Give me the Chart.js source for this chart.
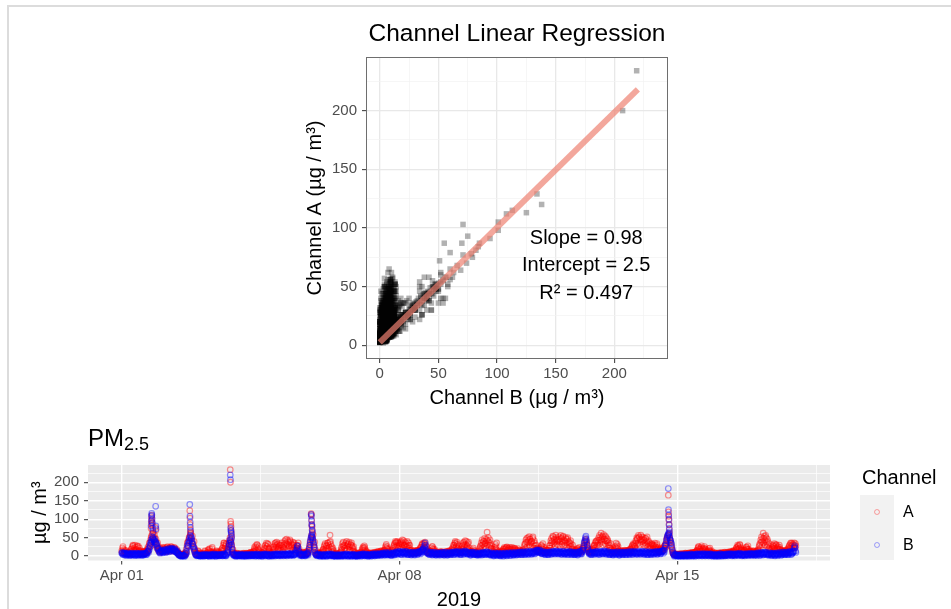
<!DOCTYPE html>
<html><head><meta charset="utf-8">
<script src="https://cdn.jsdelivr.net/npm/chart.js@4/dist/chart.umd.min.js"></script>
<style>
html,body{margin:0;padding:0;background:#fff;overflow:hidden;width:951px;height:609px;font-family:"Liberation Sans",Arial,sans-serif;}
#frame{position:absolute;left:7px;top:5px;width:960px;height:620px;border-top:2px solid #dcdcdc;border-left:2px solid #dcdcdc;}
canvas{position:absolute;left:0;}
#c1{top:0}
#c2{top:420px}
.t{position:absolute;white-space:nowrap;color:#000;}
.key{position:absolute;left:874px;width:4px;height:4px;border-radius:50%;}
</style></head><body>
<div id="frame"></div>
<canvas id="c1" width="951" height="420"></canvas>
<canvas id="c2" width="951" height="200"></canvas>
<div class="t" style="left:0;width:1034px;text-align:center;top:21px;font-size:24.5px;line-height:24px">Channel Linear Regression</div>
<div class="t" style="left:88px;top:426px;font-size:24px;line-height:24px">PM<span style="font-size:18px;position:relative;top:4px">2.5</span></div>
<div class="t" style="left:862px;top:467px;font-size:20px;line-height:20px">Channel</div>
<div style="position:absolute;left:860px;top:495px;width:34px;height:65px;background:#F2F2F2"></div>
<div class="key" style="top:509px;border:1px solid rgba(255,0,0,0.35)"></div>
<div class="key" style="top:542px;border:1px solid rgba(0,0,255,0.35)"></div>
<div class="t" style="left:903px;top:504px;font-size:16px;line-height:16px">A</div>
<div class="t" style="left:903px;top:537px;font-size:16px;line-height:16px">B</div>
<script>
// ================= DATA =================
// PM2.5 readings (µg/m³), one array per day (Apr 01 .. Apr 17 2019).
// pmX_MMDD : readings on the hour and half hour; pmX_MMDDq : readings at :15 and :45
const pmA_0401=[14,22, 18,12, 10,15, 9,8, 7,9, 8,12, 20,26, 28,22, 30,24, 18,25, 27,16, 12,10, 9,11, 8,10, 12,9, 14,18, 20,28, 35,44, 55,60, 52,45, 50,40, 32,28, 22,18, 16,15];
const pmA_0401q=[10,26, 8,16, 12,6, 6,11, 10,6, 14,18, 12,30, 16,12, 18,14, 28,12, 14,22, 8,14, 6,13, 12,7, 7,14, 10,24, 14,36, 26,50, 40,48, 36,58, 30,46, 22,36, 14,24, 10,20];
const pmB_0401=[8,7, 6,8, 5,7, 6,5, 4,6, 5,4, 6,5, 4,5, 5,6, 4,5, 6,4, 5,6, 4,5, 6,5, 5,7, 8,10, 14,22, 30,38, 45,52, 48,42, 46,38, 30,24, 18,14, 12,11];
const pmB_0401q=[10,4, 9,3, 8,2, 3,9, 7,2, 2,8, 3,8, 7,2, 2,8, 8,2, 3,7, 8,3, 2,7, 3,8, 8,4, 5,13, 10,18, 26,34, 40,48, 44,38, 40,34, 34,20, 22,10, 8,15];
const pmA_0402=[16,18, 22,15, 17,20, 18,24, 20,18, 22,19, 20,22, 21,18, 17,16, 14,12, 8,5, 4,3, 3,4, 3,5, 5,8, 18,28, 38,44, 52,58, 48,42, 34,26, 14,8, 6,5, 8,12, 6,5];
const pmA_0402q=[12,24, 14,20, 24,12, 13,26, 15,23, 14,26, 25,15, 14,24, 22,12, 18,9, 10,4, 6,2, 5,2, 6,3, 9,4, 12,36, 28,50, 40,62, 36,54, 22,40, 20,10, 4,8, 14,6, 9,4];
const pmB_0402=[12,13, 14,12, 15,13, 14,16, 15,17, 16,18, 17,19, 18,16, 15,14, 12,10, 6,3, 2,1, 2,1, 1,2, 2,4, 12,22, 32,40, 48,56, 46,40, 32,24, 12,6, 3,2, 2,3, 2,1];
const pmB_0402q=[16,9, 10,17, 18,10, 11,19, 20,12, 13,21, 22,14, 14,20, 19,11, 9,14, 8,4, 4,0, 0,3, 3,0, 0,6, 8,28, 26,36, 42,52, 50,34, 26,18, 16,4, 1,4, 4,1, 0,3];
const pmA_0403=[5,6, 4,5, 8,12, 6,5, 10,18, 14,8, 12,20, 9,6, 5,8, 7,12, 10,6, 8,5, 10,14, 22,30, 35,26, 28,18, 16,26, 42,50, 44,30, 12,7, 6,5, 4,6, 5,4, 6,5];
const pmA_0403q=[3,8, 6,3, 14,6, 4,9, 16,7, 20,11, 8,24, 12,4, 7,10, 14,5, 8,12, 4,7, 16,20, 14,36, 20,32, 34,12, 10,34, 30,38, 36,20, 18,9, 8,3, 3,8, 7,3, 4,7];
const pmB_0403=[2,3, 2,1, 3,2, 2,3, 1,2, 2,3, 3,2, 2,4, 3,2, 2,3, 3,2, 2,3, 3,4, 3,2, 4,3, 3,5, 8,18, 35,45, 38,26, 10,4, 3,2, 2,3, 2,2, 3,2];
const pmB_0403q=[0,5, 4,0, 1,5, 5,1, 4,0, 0,5, 5,1, 0,6, 5,0, 0,5, 5,1, 1,5, 5,1, 1,6, 6,1, 1,8, 12,26, 30,42, 32,18, 6,2, 5,0, 0,5, 4,0, 1,5];
const pmA_0404=[5,4, 6,5, 4,6, 5,7, 6,5, 8,6, 7,9, 10,8, 14,20, 28,24, 30,18, 10,7, 6,8, 7,9, 12,22, 30,35, 26,32, 14,8, 6,9, 10,18, 26,34, 36,28, 32,25, 20,30];
const pmA_0404q=[3,7, 4,8, 7,3, 8,4, 4,8, 6,10, 11,5, 7,13, 24,10, 16,32, 22,26, 14,5, 4,10, 11,6, 18,28, 20,26, 34,20, 20,11, 10,5, 14,24, 18,30, 24,38, 20,34, 28,16];
const pmB_0404=[2,3, 3,2, 2,1, 2,3, 3,2, 2,2, 3,4, 3,2, 2,3, 4,3, 3,2, 2,3, 3,2, 2,3, 3,4, 4,3, 3,2, 2,3, 3,2, 2,3, 3,4, 4,3, 3,4, 4,3];
const pmB_0404q=[5,0, 0,5, 4,0, 0,5, 5,1, 0,4, 5,1, 1,5, 5,0, 1,6, 5,1, 0,5, 5,0, 0,5, 6,1, 1,6, 5,0, 0,5, 5,1, 0,5, 6,1, 1,6, 6,2, 1,6];
const pmA_0405=[22,30, 26,18, 30,40, 44,36, 32,42, 38,28, 40,34, 26,38, 30,22, 18,24, 28,30, 14,10, 8,6, 7,9, 6,8, 9,7, 8,10, 14,24, 40,48, 52,46, 34,26, 10,7, 6,8, 5,6];
const pmA_0405q=[16,36, 12,24, 20,34, 26,46, 18,28, 24,44, 22,30, 16,32, 36,14, 12,30, 20,36, 20,8, 10,5, 5,11, 10,5, 6,12, 12,7, 20,32, 30,56, 40,58, 24,38, 16,5, 4,10, 8,4];
const pmB_0405=[3,4, 4,3, 4,5, 3,4, 5,4, 4,6, 5,4, 4,5, 5,4, 6,8, 22,26, 8,5, 4,3, 3,4, 4,3, 3,4, 5,6, 10,22, 38,50, 58,48, 36,24, 8,4, 3,4, 3,2];
const pmB_0405q=[1,6, 6,1, 2,7, 6,1, 2,7, 7,2, 2,7, 7,2, 3,8, 10,16, 28,18, 12,2, 6,1, 1,6, 6,1, 1,6, 8,3, 16,30, 44,54, 52,42, 30,16, 5,2, 1,6, 5,0];
const pmA_0406=[6,8, 10,14, 18,26, 34,22, 28,35, 30,24, 57,32, 26,18, 10,7, 5,6, 4,5, 6,4, 8,12, 24,34, 38,30, 22,36, 40,28, 34,38, 26,32, 36,24, 20,14, 8,6, 5,4, 6,5];
const pmA_0406q=[4,10, 7,18, 12,30, 16,28, 20,36, 14,38, 40,20, 12,22, 14,5, 8,4, 6,3, 3,8, 10,18, 16,28, 26,20, 30,14, 18,32, 24,16, 16,30, 28,14, 26,10, 10,4, 7,3, 3,8];
const pmB_0406=[2,3, 2,1, 2,3, 3,2, 2,3, 3,4, 4,3, 3,2, 2,1, 1,2, 2,1, 1,2, 2,2, 3,2, 2,3, 3,4, 3,2, 2,3, 3,2, 2,3, 3,2, 2,1, 1,2, 2,3];
const pmB_0406q=[0,5, 4,0, 0,5, 5,0, 0,5, 6,1, 1,6, 5,0, 4,0, 0,4, 4,0, 0,4, 4,0, 0,5, 5,0, 1,6, 5,0, 0,5, 5,0, 0,5, 5,0, 4,0, 0,4, 0,5];
const pmA_0407=[7,9, 12,18, 25,22, 24,14, 9,7, 6,8, 7,5, 6,7, 8,6, 7,9, 10,8, 9,11, 10,12, 11,9, 12,14, 16,24, 32,26, 18,12, 10,9, 12,16, 20,26, 34,40, 38,30, 36,28];
const pmA_0407q=[10,6, 8,22, 16,28, 18,10, 12,5, 9,4, 4,9, 9,5, 5,10, 11,6, 7,12, 13,7, 8,14, 14,8, 9,16, 12,28, 22,20, 14,9, 7,12, 16,10, 14,30, 24,36, 26,40, 22,34];
const pmB_0407=[3,2, 3,4, 4,3, 3,4, 2,3, 3,2, 2,3, 3,4, 4,3, 3,5, 4,3, 5,4, 4,5, 5,6, 6,5, 5,7, 6,5, 7,6, 5,4, 4,6, 6,5, 7,8, 9,8, 8,10];
const pmB_0407q=[5,0, 1,6, 6,1, 1,6, 5,0, 0,5, 5,0, 1,6, 6,1, 1,7, 7,2, 2,7, 7,2, 3,8, 9,3, 3,10, 9,3, 4,10, 8,2, 2,8, 9,3, 4,11, 12,5, 6,13];
const pmA_0408=[30,38, 40,32, 36,42, 30,38, 34,26, 28,36, 22,16, 12,10, 11,13, 10,12, 12,14, 13,15, 16,20, 24,30, 32,26, 34,38, 20,14, 12,10, 10,12, 14,22, 26,20, 14,10, 9,11, 8,10];
const pmA_0408q=[20,34, 24,44, 22,30, 18,28, 24,40, 18,30, 30,12, 16,8, 8,15, 14,9, 9,16, 16,10, 12,24, 18,34, 20,36, 24,30, 26,10, 8,14, 14,8, 10,26, 18,14, 18,7, 12,7, 11,6];
const pmB_0408=[8,9, 7,10, 9,8, 10,8, 9,7, 8,6, 7,8, 6,7, 8,7, 6,8, 7,9, 8,10, 9,11, 12,14, 16,18, 28,36, 14,10, 9,8, 7,8, 6,7, 8,6, 7,5, 6,7, 5,6];
const pmB_0408q=[12,5, 4,12, 12,5, 6,13, 12,4, 4,10, 10,4, 3,10, 10,4, 3,11, 10,5, 5,13, 13,6, 9,17, 20,12, 24,30, 18,7, 12,5, 4,11, 10,3, 4,10, 10,3, 3,9, 9,3];
const pmA_0409=[10,8, 9,11, 8,10, 9,7, 8,10, 12,9, 10,14, 12,16, 18,24, 30,36, 34,28, 32,22, 16,12, 14,20, 28,36, 38,30, 32,40, 26,34, 16,12, 10,12, 14,18, 12,10, 9,8, 8,10];
const pmA_0409q=[7,12, 12,7, 11,6, 6,12, 12,7, 8,14, 13,8, 9,20, 14,30, 22,40, 24,38, 20,28, 18,9, 10,26, 18,32, 24,42, 22,30, 20,38, 22,9, 13,8, 10,22, 15,8, 11,6, 7,12];
const pmB_0409=[6,7, 8,6, 7,5, 6,8, 7,6, 5,7, 6,8, 8,7, 7,9, 9,8, 8,10, 10,9, 8,7, 7,9, 9,8, 10,11, 9,10, 8,7, 7,6, 6,8, 8,7, 7,6, 5,7, 6,5];
const pmB_0409q=[9,3, 4,10, 10,3, 3,10, 10,3, 3,9, 10,4, 4,11, 11,4, 5,12, 12,5, 6,13, 11,4, 4,12, 12,5, 6,14, 13,6, 5,11, 10,3, 3,10, 11,4, 4,10, 9,3, 3,9];
const pmA_0410=[14,20, 28,36, 44,32, 40,48, 36,46, 65,42, 38,30, 34,22, 14,10, 12,18, 32,26, 16,10, 9,8, 10,12, 9,14, 20,24, 18,22, 25,16, 22,18, 14,20, 24,18, 16,22, 20,14, 12,16];
const pmA_0410q=[10,24, 18,30, 22,40, 26,34, 20,42, 30,50, 24,44, 20,28, 18,8, 9,24, 20,36, 12,8, 12,6, 8,14, 12,18, 14,20, 12,24, 16,20, 12,24, 18,10, 14,22, 12,18, 16,10, 8,20];
const pmB_0410=[5,6, 6,7, 7,8, 6,8, 7,9, 8,7, 7,6, 6,5, 5,4, 4,5, 5,6, 4,5, 5,3, 4,5, 3,4, 5,6, 4,5, 6,5, 5,7, 6,5, 7,6, 5,6, 6,7, 7,8];
const pmB_0410q=[3,9, 9,3, 4,11, 10,4, 5,12, 11,4, 10,3, 3,9, 8,1, 1,8, 9,2, 2,8, 8,1, 1,8, 7,0, 2,9, 8,1, 2,9, 9,2, 2,9, 10,3, 3,9, 10,3, 4,11];
const pmA_0411=[14,12, 10,13, 12,16, 18,26, 34,44, 48,38, 42,53, 46,36, 40,48, 32,42, 28,20, 16,18, 17,15, 18,24, 30,26, 18,14, 12,14, 13,16, 16,22, 30,42, 48,40, 52,44, 38,57, 46,40];
const pmA_0411q=[10,16, 12,9, 15,10, 14,32, 22,38, 26,50, 30,46, 24,40, 28,52, 22,36, 16,30, 12,22, 20,12, 14,28, 20,34, 24,10, 10,16, 16,10, 12,28, 22,36, 30,54, 34,46, 28,50, 32,42];
const pmB_0411=[7,8, 8,6, 7,9, 8,7, 9,8, 7,9, 8,10, 9,8, 10,9, 8,10, 11,12, 13,15, 14,12, 11,10, 9,8, 8,9, 7,8, 8,6, 7,8, 9,8, 10,9, 8,10, 9,11, 10,9];
const pmB_0411q=[4,11, 11,4, 4,12, 11,4, 5,12, 12,5, 5,13, 12,5, 6,13, 13,6, 8,16, 17,10, 10,17, 15,7, 6,12, 12,5, 4,11, 11,4, 4,11, 12,5, 6,13, 13,6, 6,14, 13,6];
const pmA_0412=[44,52, 40,56, 48,38, 54,44, 42,50, 36,46, 40,30, 34,42, 26,18, 14,12, 13,15, 14,18, 21,16, 13,14, 15,18, 22,30, 38,46, 42,30, 16,12, 12,14, 15,18, 20,26, 30,36, 40,34];
const pmA_0412q=[30,46, 26,48, 32,52, 28,40, 30,46, 24,50, 22,38, 26,34, 20,30, 18,10, 11,16, 10,20, 14,24, 16,10, 12,22, 18,26, 30,40, 34,24, 20,10, 10,16, 12,20, 16,30, 22,40, 28,44];
const pmB_0412=[9,10, 8,9, 10,8, 9,7, 8,9, 7,8, 9,10, 8,9, 7,8, 8,6, 7,8, 6,7, 8,9, 10,8, 9,12, 16,28, 40,50, 46,30, 14,9, 8,7, 7,8, 8,9, 9,10, 8,9];
const pmB_0412q=[6,13, 12,5, 5,13, 12,5, 5,12, 11,4, 5,13, 12,5, 4,11, 11,4, 4,11, 10,3, 5,12, 13,6, 6,16, 22,36, 44,54, 38,22, 18,6, 11,4, 4,11, 11,5, 6,13, 12,5];
const pmA_0413=[38,50, 56,44, 62,48, 52,58, 46,54, 50,40, 42,36, 30,22, 16,14, 12,15, 18,26, 35,28, 20,14, 12,13, 11,14, 12,10, 13,15, 14,12, 12,16, 15,18, 18,24, 30,34, 32,26, 42,50];
const pmA_0413q=[30,44, 34,52, 40,54, 30,46, 34,42, 28,46, 30,24, 22,34, 18,10, 14,10, 14,22, 24,32, 26,12, 10,15, 14,9, 8,14, 16,11, 10,15, 14,10, 12,20, 14,28, 22,28, 26,36, 30,46];
const pmB_0413=[8,9, 9,10, 10,8, 9,11, 10,9, 8,9, 9,7, 8,6, 7,8, 6,7, 7,8, 8,9, 7,6, 6,8, 7,8, 8,7, 7,9, 8,7, 9,8, 7,9, 8,10, 9,8, 10,9, 9,8];
const pmB_0413q=[12,5, 5,13, 13,6, 6,14, 13,6, 5,12, 12,4, 4,10, 10,4, 3,10, 10,4, 5,12, 10,3, 3,11, 11,4, 4,11, 11,4, 4,11, 12,5, 4,12, 12,5, 5,12, 13,6, 5,12];
const pmA_0414=[48,56, 52,44, 57,46, 40,50, 44,36, 48,40, 34,42, 30,24, 28,34, 32,26, 30,35, 24,30, 20,16, 14,18, 16,20, 18,22, 22,28, 32,44, 54,50, 56,48, 38,30, 16,8, 5,4, 4,5];
const pmA_0414q=[34,50, 30,46, 40,52, 32,44, 28,48, 30,52, 26,38, 20,34, 22,30, 18,28, 20,26, 18,34, 24,12, 12,22, 18,14, 14,26, 18,32, 26,48, 40,58, 36,44, 26,22, 10,6, 7,3, 6,3];
const pmB_0414=[8,9, 9,8, 10,9, 8,10, 9,8, 7,9, 8,7, 9,8, 7,8, 8,9, 9,10, 8,9, 10,9, 9,11, 10,12, 12,14, 16,22, 30,42, 52,58, 60,50, 42,34, 18,8, 3,2, 2,3];
const pmB_0414q=[5,12, 12,5, 6,13, 13,5, 5,12, 12,4, 4,11, 12,5, 4,11, 11,5, 6,13, 12,5, 6,13, 13,6, 7,15, 15,8, 12,28, 36,48, 56,62, 54,44, 36,26, 12,5, 0,5, 5,0];
const pmA_0415=[4,5, 5,4, 4,6, 5,4, 6,5, 5,7, 6,5, 7,6, 8,7, 7,9, 9,8, 10,12, 16,22, 25,18, 20,24, 14,18, 22,26, 18,12, 10,12, 20,16, 12,10, 8,7, 6,8, 7,6];
const pmA_0415q=[6,3, 3,6, 7,3, 3,7, 4,8, 8,4, 4,8, 9,5, 5,10, 10,6, 6,11, 8,14, 12,26, 20,14, 14,28, 20,12, 16,20, 14,10, 14,8, 14,22, 9,14, 10,5, 4,9, 9,5];
const pmB_0415=[2,1, 2,3, 1,2, 2,1, 2,2, 3,2, 2,3, 3,2, 2,4, 3,2, 2,3, 3,4, 4,3, 3,4, 4,3, 3,5, 4,3, 3,4, 4,3, 3,4, 4,3, 3,2, 2,3, 3,2];
const pmB_0415q=[4,0, 0,4, 4,0, 0,4, 5,0, 0,5, 5,0, 0,5, 6,1, 0,5, 5,0, 1,6, 6,1, 1,6, 6,1, 1,7, 6,1, 1,6, 6,1, 1,6, 6,1, 0,5, 5,0, 0,5];
const pmA_0416=[6,5, 7,6, 8,7, 6,8, 7,9, 8,6, 7,9, 10,8, 9,11, 10,12, 12,10, 14,18, 24,30, 28,22, 30,20, 14,12, 12,15, 16,20, 25,18, 14,12, 11,13, 10,12, 11,9, 12,10];
const pmA_0416q=[4,8, 9,4, 5,10, 9,5, 5,11, 10,5, 11,6, 7,12, 12,7, 8,14, 15,9, 11,22, 18,26, 20,32, 24,16, 10,16, 16,10, 12,24, 20,28, 18,10, 14,9, 8,14, 14,8, 9,13];
const pmB_0416=[2,3, 3,2, 3,4, 2,3, 3,2, 4,3, 3,4, 4,5, 5,4, 4,3, 3,4, 4,5, 5,4, 4,6, 5,4, 4,3, 3,4, 4,5, 5,4, 4,5, 5,6, 4,5, 5,4, 6,5];
const pmB_0416q=[5,0, 0,6, 6,1, 0,5, 5,1, 1,6, 6,1, 2,7, 7,2, 1,6, 6,1, 2,7, 7,2, 2,8, 7,2, 1,6, 6,1, 2,7, 7,2, 2,7, 8,3, 2,7, 7,2, 3,8];
const pmA_0417=[12,14, 18,26, 34,44, 52,40, 62,48, 44,56, 38,46, 30,22, 16,14, 18,24, 30,26, 22,28, 30,20, 26,18, 24,16, 12,14, 13,11, 12,15, 14,16, 18,24, 30,34, 28,35, 32,26, 30,34];
const pmA_0417q=[9,16, 14,30, 22,38, 30,48, 36,54, 30,50, 26,40, 20,34, 20,10, 12,28, 20,34, 16,32, 24,14, 20,30, 18,12, 16,10, 9,14, 15,10, 10,20, 14,28, 22,36, 20,30, 24,36, 22,28];
const pmB_0417=[5,6, 6,5, 7,6, 6,8, 7,6, 8,7, 7,6, 6,5, 5,6, 6,4, 5,6, 4,5, 6,5, 5,7, 6,5, 7,6, 6,8, 7,6, 8,7, 7,9, 8,10, 9,8, 10,12, 28,14];
const pmB_0417q=[2,9, 9,2, 3,10, 10,3, 4,10, 11,4, 10,3, 3,9, 9,2, 2,8, 8,2, 1,8, 9,2, 3,10, 9,2, 4,11, 11,4, 4,10, 11,4, 4,12, 12,5, 5,12, 14,22, 24,10];

// short-lived peaks (time in days after Apr 01 00:00, value µg/m³)
const peakTimeA=[0.74,0.745,0.75,0.755,0.76,0.765,0.77,0.78,0.79,0.85,0.86, 1.715,1.72,1.725,1.73,1.735, 2.735,2.74,2.745,2.75,2.755,2.76,2.765,2.77, 4.775,4.78,4.785,4.79,4.795,4.8,4.805, 13.775,13.78,13.785,13.79,13.795,13.8,13.805];
const peakValA =[75,88,98,110,104,92,84,70,62,78,70, 123,103,85,72,64, 234,200,94,87,80,70,60,52, 115,112,98,86,80,72,62, 165,120,108,98,86,72,62];
const peakTimeB=[0.74,0.745,0.75,0.755,0.76,0.765,0.77,0.78,0.79,0.855,0.86,0.865, 1.715,1.72,1.725,1.73,1.735, 2.735,2.74,2.745,2.75,2.755,2.76,2.765,2.77, 4.775,4.78,4.785,4.79,4.795,4.8,4.805, 13.775,13.78,13.785,13.79,13.795,13.8,13.805];
const peakValB =[82,95,108,116,112,100,90,76,66,135,82,74, 140,108,92,78,68, 220,207,76,70,66,62,55,48, 113,108,96,85,82,70,66, 183,126,112,100,85,75,66];

// extra (B, A) pairs seen in the regression scatter
const outlierB=[219,207,134,138,125,113,108,101,101,94,71,55,51,60,70,75,71,69,82,79,85,74,60,84,78,66,63,57,54,52];
const outlierA=[234,200,129,120,113,115,112,105,98,91,103,87,72,79,87,93,77,64,81,75,87,70,65,84,78,68,62,58,55,52];
const bandB=[15,17,18,20,21,22,24,25,26,27,28,29,30,31,32,33,34,35,36,37,38,39,40,41,42,43,44,45,46,47,48,49,50,45,40,35,30,25,20,18,16,14,12];
const bandA=[20,24,19,26,22,28,25,31,27,33,30,35,32,37,34,40,36,41,38,43,40,45,42,46,44,49,46,50,47,52,49,51,53,44,39,35,30,25,20,17,15,13,11];
const shoulderB=[13,15,17,19,21,23,25];
const shoulderA=[30,33,35,33,36,38,40];

// fitted line (lm A ~ B)
const fitB=[0,220];
const fitA=[2.5,218.1];
const statLines=['Slope = 0.98','Intercept = 2.5','R\u00B2 = 0.497'];

// ticks
const regMajor=[0,50,100,150,200];
const regMinor=[25,75,125,175,225];
const pmMajor=[0,50,100,150,200];
const pmMinor=[25,75,125,175,225];
const dateTickDays=[0,7,14];
const dateTickLabels=['Apr 01','Apr 08','Apr 15'];
const dateMinorDays=[3.5,10.5,17.5];

// ================= BUILD =================
const sampleStep=1/48; // half an hour, in days
const daysA=[pmA_0401,pmA_0402,pmA_0403,pmA_0404,pmA_0405,pmA_0406,pmA_0407,pmA_0408,pmA_0409,pmA_0410,pmA_0411,pmA_0412,pmA_0413,pmA_0414,pmA_0415,pmA_0416,pmA_0417];
const daysAq=[pmA_0401q,pmA_0402q,pmA_0403q,pmA_0404q,pmA_0405q,pmA_0406q,pmA_0407q,pmA_0408q,pmA_0409q,pmA_0410q,pmA_0411q,pmA_0412q,pmA_0413q,pmA_0414q,pmA_0415q,pmA_0416q,pmA_0417q];
const daysB=[pmB_0401,pmB_0402,pmB_0403,pmB_0404,pmB_0405,pmB_0406,pmB_0407,pmB_0408,pmB_0409,pmB_0410,pmB_0411,pmB_0412,pmB_0413,pmB_0414,pmB_0415,pmB_0416,pmB_0417];
const daysBq=[pmB_0401q,pmB_0402q,pmB_0403q,pmB_0404q,pmB_0405q,pmB_0406q,pmB_0407q,pmB_0408q,pmB_0409q,pmB_0410q,pmB_0411q,pmB_0412q,pmB_0413q,pmB_0414q,pmB_0415q,pmB_0416q,pmB_0417q];
function timeSeries(days,offset){const p=[];days.forEach((arr,d)=>arr.forEach((v,i)=>p.push({x:d+(i+offset)*sampleStep,y:v})));return p;}
function zipPts(xs,ys){return xs.map((x,i)=>({x:x,y:ys[i]}));}
const tsA=timeSeries(daysA,0).concat(timeSeries(daysAq,0.5));
const tsB=timeSeries(daysB,0).concat(timeSeries(daysBq,0.5));
const pkA=zipPts(peakTimeA,peakValA), pkB=zipPts(peakTimeB,peakValB);
const scatterPts=[];
function pairUp(dA,dB){dA.forEach((arr,d)=>arr.forEach((v,i)=>{ if(dB[d][i]!==undefined) scatterPts.push({x:dB[d][i],y:v}); }));}
pairUp(daysA,daysB); pairUp(daysAq,daysBq);
scatterPts.push(...zipPts(outlierB,outlierA),...zipPts(bandB,bandA),...zipPts(shoulderB,shoulderA));
const fitPts=zipPts(fitB,fitA);

const FONT='"Liberation Sans", Arial, sans-serif';
Chart.defaults.font.family=FONT;

function mkGrid(major,majC,minC,majW,minW){
  return {
    color:c=>major.includes(c.tick.value)?majC:minC,
    lineWidth:c=>major.includes(c.tick.value)?majW:minW,
    tickColor:c=>major.includes(c.tick.value)?'#333333':'rgba(0,0,0,0)',
    tickLength:4,tickWidth:1,drawTicks:true
  };
}
function fixedTicks(vals){return s=>{s.ticks=vals.slice().sort((a,b)=>a-b).map(v=>({value:v}));};}

// ---- chart 1: regression ----
const regPlugin={id:'reg',
  afterDatasetsDraw(ch){
    const {ctx,chartArea:a,scales:{x,y}}=ch;
    ctx.save();
    ctx.strokeStyle='#6e6e6e';ctx.lineWidth=1;
    ctx.strokeRect(a.left+0.5,a.top+0.5,a.right-a.left-1,a.bottom-a.top-1);
    const px=x.getPixelForValue(176), py=y.getPixelForValue(69);
    ctx.font='20px '+FONT;ctx.fillStyle='#000';ctx.textAlign='center';ctx.textBaseline='alphabetic';
    statLines.forEach((t,i)=>ctx.fillText(t,px,py+7+(i-1)*27.5));
    ctx.restore();
  }};
new Chart(document.getElementById('c1'),{
  type:'scatter',
  data:{datasets:[
    {data:fitPts,showLine:true,borderColor:'rgba(238,130,114,0.7)',borderWidth:6,borderCapStyle:'butt',pointRadius:0,order:0},
    {data:scatterPts,pointStyle:'rect',pointRadius:3.9,backgroundColor:'rgba(0,0,0,0.3)',borderWidth:0,order:1}
  ]},
  options:{responsive:false,animation:false,events:[],
    layout:{padding:{left:290,right:283,top:57,bottom:0}},
    plugins:{legend:{display:false},tooltip:{enabled:false}},
    scales:{
      x:{type:'linear',min:-11.7,max:245.7,afterBuildTicks:fixedTicks(regMajor.concat(regMinor)),
        afterFit:s=>{s.height=61;},
        ticks:{autoSkip:false,maxRotation:0,minRotation:0,padding:2,color:'#4D4D4D',font:{size:15},callback:v=>regMajor.includes(v)?String(v):''},
        grid:mkGrid(regMajor,'#E8E8E8','#F2F2F2',1.3,0.7),border:{display:false},
        title:{display:true,text:'Channel B (\u00B5g / m\u00B3)',color:'#000',font:{size:20,lineHeight:1.2},padding:{top:0,bottom:10}}},
      y:{type:'linear',min:-11.7,max:245.7,afterBuildTicks:fixedTicks(regMajor.concat(regMinor)),
        afterFit:s=>{s.width=76;},
        ticks:{autoSkip:false,padding:5,color:'#4D4D4D',font:{size:15},callback:v=>regMajor.includes(v)?String(v):''},
        grid:mkGrid(regMajor,'#E8E8E8','#F2F2F2',1.3,0.7),border:{display:false},
        title:{display:true,text:'Channel A (\u00B5g / m\u00B3)',color:'#000',font:{size:20,lineHeight:1.2},padding:{top:13,bottom:0}}}
    }},
  plugins:[regPlugin]
});

// ---- chart 2: time series ----
const bgPlugin={id:'bg',beforeDraw(ch){const {ctx,chartArea:a}=ch;ctx.save();ctx.fillStyle='#EBEBEB';ctx.fillRect(a.left,a.top,a.right-a.left,a.bottom-a.top);ctx.restore();}};
const ptA={pointStyle:'circle',pointRadius:2.8,borderWidth:1.2,borderColor:'rgba(255,0,0,0.42)',backgroundColor:'rgba(0,0,0,0)'};
const ptB={pointStyle:'circle',pointRadius:2.8,borderWidth:1.2,borderColor:'rgba(0,0,255,0.42)',backgroundColor:'rgba(0,0,0,0)'};
new Chart(document.getElementById('c2'),{
  type:'scatter',
  data:{datasets:[
    Object.assign({data:tsB,order:1},ptB),
    Object.assign({data:pkB,order:0},ptB),
    Object.assign({data:tsA,order:3},ptA),
    Object.assign({data:pkA,order:2},ptA)
  ]},
  options:{responsive:false,animation:false,events:[],
    layout:{padding:{left:0,right:121,top:45,bottom:0}},
    plugins:{legend:{display:false},tooltip:{enabled:false}},
    scales:{
      x:{type:'linear',min:-0.85,max:17.85,afterBuildTicks:fixedTicks(dateTickDays.concat(dateMinorDays)),
        afterFit:s=>{s.height=59.5;},
        ticks:{autoSkip:false,maxRotation:0,minRotation:0,padding:2,color:'#4D4D4D',font:{size:15},
          callback:v=>{const k=dateTickDays.indexOf(v);return k>=0?dateTickLabels[k]:'';}},
        grid:mkGrid(dateTickDays,'#FFFFFF','#FFFFFF',1.4,0.7),border:{display:false},
        title:{display:true,text:'2019',color:'#000',font:{size:20,lineHeight:1.2},padding:{top:0,bottom:8}}},
      y:{type:'linear',min:-11.75,max:246.75,afterBuildTicks:fixedTicks(pmMajor.concat(pmMinor)),
        afterFit:s=>{s.width=88;},
        ticks:{autoSkip:false,padding:5,color:'#4D4D4D',font:{size:15},callback:v=>pmMajor.includes(v)?String(v):''},
        grid:mkGrid(pmMajor,'#FFFFFF','#FFFFFF',1.4,0.7),border:{display:false},
        title:{display:true,text:'\u00B5g / m\u00B3',color:'#000',font:{size:20,lineHeight:1.2},padding:{top:28,bottom:0}}}
    }},
  plugins:[bgPlugin]
});
</script>
</body></html>
